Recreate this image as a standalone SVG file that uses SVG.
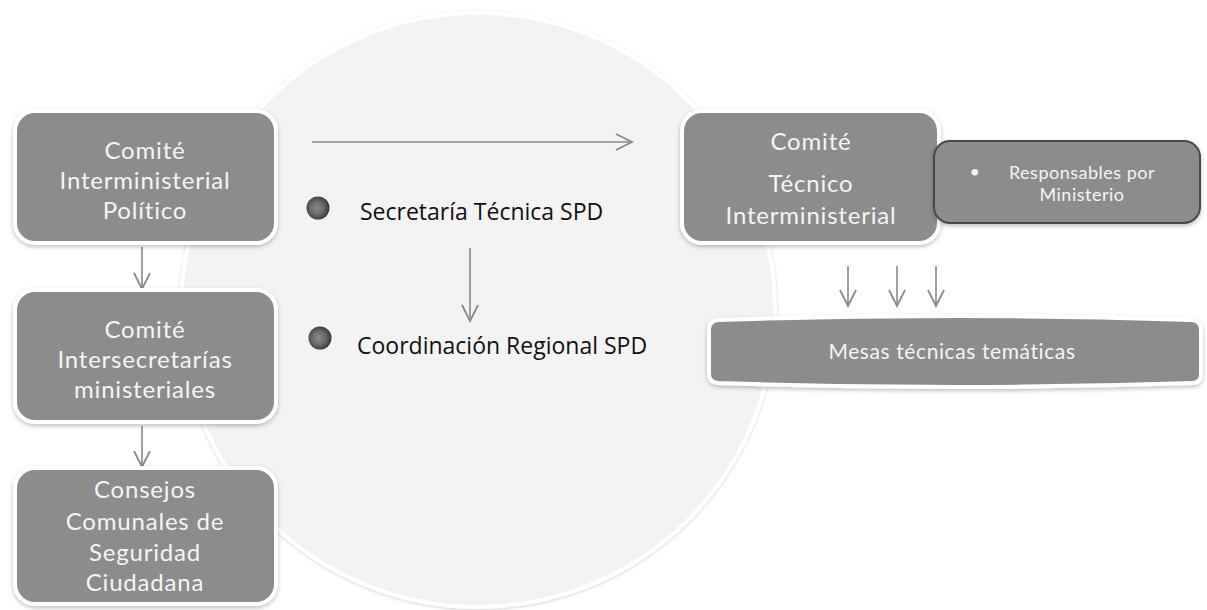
<svg xmlns="http://www.w3.org/2000/svg" width="1207" height="610" viewBox="0 0 1207 610">
<style>
.box{fill:#8c8c8c;stroke:#ffffff;stroke-width:4;filter:url(#sh)}
.t{font-family:Lato,"Open Sans","DejaVu Sans",sans-serif;fill:#f4f4f4;text-anchor:middle}
.b{font-size:24px;letter-spacing:0.8px}
.s{font-size:18px;letter-spacing:0.5px}
.lbl{font-family:"Open Sans","DejaVu Sans",sans-serif;fill:#111;font-size:23px}
.c{fill:none;stroke:#8a8a8a;stroke-width:1.6}
</style>
<defs>
<filter id="sh" x="-10%" y="-10%" width="120%" height="130%">
<feDropShadow dx="0" dy="2" stdDeviation="2" flood-color="#000" flood-opacity="0.25"/>
</filter>
<filter id="csh" x="-5%" y="-5%" width="110%" height="110%">
<feDropShadow dx="0" dy="1" stdDeviation="1.5" flood-color="#000" flood-opacity="0.18"/>
</filter>
<radialGradient id="ball" cx="0.45" cy="0.5" r="0.6">
<stop offset="0" stop-color="#8a8a8a"/>
<stop offset="0.5" stop-color="#6a6a6a"/>
<stop offset="0.8" stop-color="#444"/>
<stop offset="1" stop-color="#2a2a2a"/>
</radialGradient>
<marker id="ah" viewBox="0 0 20 20" refX="18" refY="10" markerWidth="20" markerHeight="20" markerUnits="userSpaceOnUse" orient="auto">
<path d="M2,2 L18,10 L2,18" fill="none" stroke="#8a8a8a" stroke-width="1.8"/>
</marker>
</defs>
<rect width="1207" height="610" fill="#ffffff"/>
<g id="circle">
<circle cx="478" cy="310" r="297" fill="#f3f3f3" stroke="#ffffff" stroke-width="4" filter="url(#csh)"/>
</g>
<g id="connectors">
<line class="c" x1="312" y1="142" x2="632" y2="142" marker-end="url(#ah)"/>
<line class="c" x1="470" y1="248" x2="470" y2="321" marker-end="url(#ah)"/>
<line class="c" x1="142" y1="247" x2="142" y2="289" marker-end="url(#ah)"/>
<line class="c" x1="142" y1="426" x2="142" y2="467" marker-end="url(#ah)"/>
<line class="c" x1="848" y1="266" x2="848" y2="306" marker-end="url(#ah)"/>
<line class="c" x1="897" y1="266" x2="897" y2="306" marker-end="url(#ah)"/>
<line class="c" x1="936" y1="266" x2="936" y2="306" marker-end="url(#ah)"/>
</g>
<g id="n1">
<rect class="box" x="15" y="111" width="261" height="132" rx="20"/>
<text class="t b"><tspan x="145" y="159">Comité</tspan><tspan x="145" y="189">Interministerial</tspan><tspan x="145" y="219">Político</tspan></text>
</g>
<g id="n2">
<rect class="box" x="15" y="290" width="261" height="132" rx="20"/>
<text class="t b"><tspan x="145" y="338">Comité</tspan><tspan x="145" y="368">Intersecretarías</tspan><tspan x="145" y="398">ministeriales</tspan></text>
</g>
<g id="n3">
<rect class="box" x="15" y="468" width="261" height="136" rx="20"/>
<text class="t b"><tspan x="145" y="498">Consejos</tspan><tspan x="145" y="530">Comunales de</tspan><tspan x="145" y="561">Seguridad</tspan><tspan x="145" y="591">Ciudadana</tspan></text>
</g>
<g id="n4">
<rect class="box" x="682" y="111" width="257" height="132" rx="20"/>
<text class="t b"><tspan x="811" y="150">Comité</tspan><tspan x="811" y="192">Técnico</tspan><tspan x="811" y="224">Interministerial</tspan></text>
</g>
<g id="n5">
<rect x="934" y="141" width="266" height="82" rx="16" fill="#8c8c8c" stroke="#4a4a4a" stroke-width="2" filter="url(#sh)"/>
<text class="t s"><tspan x="975" y="178">•</tspan><tspan x="1082" y="179">Responsables por</tspan><tspan x="1082" y="201">Ministerio</tspan></text>
</g>
<g id="n6">
<path class="box" d="M718,320 Q955,312 1192,320 Q1201,321 1201,330 L1201,374 Q1201,383 1192,383 Q955,391 718,383 Q709,382 709,374 L709,330 Q709,321 718,320 Z"/>
<text class="t" x="952" y="359" font-size="21px" letter-spacing="0.6px">Mesas técnicas temáticas</text>
</g>
<g id="n7">
<circle cx="318" cy="208" r="11.5" fill="url(#ball)"/>
<text class="lbl" x="360" y="220">Secretaría Técnica SPD</text>
</g>
<g id="n8">
<circle cx="320" cy="338" r="11.5" fill="url(#ball)"/>
<text class="lbl" x="357" y="354">Coordinación Regional SPD</text>
</g>
</svg>
